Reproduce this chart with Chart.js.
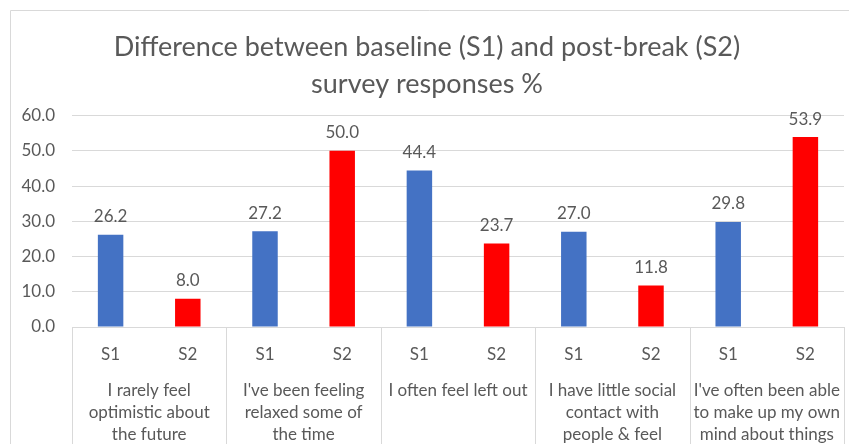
<!DOCTYPE html>
<html>
<head>
<meta charset="utf-8">
<script src="https://cdn.jsdelivr.net/npm/chart.js@4/dist/chart.umd.min.js"></script>
<style>
html,body{margin:0;padding:0;background:#fff;}
#wrap{width:849px;height:444px;position:relative;}
</style>
</head>
<body>
<div id="wrap"><canvas id="c" width="849" height="444"></canvas></div>
<script>
const titleLines = ['Difference between baseline (S1) and post-break (S2)', 'survey responses %'];
const groups = [
  ['I rarely feel', 'optimistic about', 'the future'],
  ["I've been feeling", 'relaxed some of', 'the time'],
  ['I often feel left out'],
  ['I have little social', 'contact with', 'people & feel'],
  ["I've often been able", 'to make up my own', 'mind about things']
];
const subLabels = ['S1', 'S2'];
const s1Values = [26.2, 27.2, 44.4, 27.0, 29.8];
const s2Values = [8.0, 50.0, 23.7, 11.8, 53.9];
const yTicks = [0, 10, 20, 30, 40, 50, 60];

const FONT = 'Lato, "Open Sans", sans-serif';
const TXT = '#595959';
const LINE = '#d9d9d9';
const LBL = 17;

// flat categories: each group has S1 then S2
const categories = [];
groups.forEach(() => subLabels.forEach(s => categories.push(s)));
const s1Data = [], s2Data = [];
groups.forEach((g, i) => {
  s1Data.push(s1Values[i]); s1Data.push(null);
  s2Data.push(null); s2Data.push(s2Values[i]);
});

const framePlugin = {
  id: 'frame',
  beforeDraw(chart) {
    const ctx = chart.ctx;
    ctx.save();
    ctx.strokeStyle = LINE;
    ctx.lineWidth = 1;
    ctx.beginPath();
    ctx.moveTo(10.5, 444);
    ctx.lineTo(10.5, 10.5);
    ctx.lineTo(849, 10.5);
    ctx.stroke();
    ctx.restore();
  },
  afterDraw(chart) {
    const ctx = chart.ctx;
    const x = chart.scales.x;
    const area = chart.chartArea;
    const slot = (area.right - area.left) / categories.length;
    ctx.save();
    ctx.strokeStyle = LINE;
    ctx.lineWidth = 1;
    ctx.beginPath();
    for (let g = 0; g <= groups.length; g++) {
      const px = Math.round(area.left + g * 2 * slot) + 0.5;
      ctx.moveTo(px, area.bottom);
      ctx.lineTo(px, 444);
    }
    ctx.stroke();
    ctx.fillStyle = TXT;
    ctx.font = LBL + 'px ' + FONT;
    ctx.textAlign = 'center';
    ctx.textBaseline = 'middle';
    groups.forEach((lines, g) => {
      const cx = (x.getPixelForValue(g * 2) + x.getPixelForValue(g * 2 + 1)) / 2;
      lines.forEach((t, li) => ctx.fillText(t, cx, 391 + li * 22));
    });
    ctx.restore();
  },
  afterDatasetsDraw(chart) {
    const ctx = chart.ctx;
    ctx.save();
    ctx.fillStyle = TXT;
    ctx.font = LBL + 'px ' + FONT;
    ctx.textAlign = 'center';
    ctx.textBaseline = 'middle';
    chart.data.datasets.forEach((ds, di) => {
      const meta = chart.getDatasetMeta(di);
      meta.data.forEach((el, i) => {
        const v = ds.data[i];
        if (v === null || v === undefined) return;
        ctx.fillText(v.toFixed(1), el.x, el.y - 18);
      });
    });
    ctx.restore();
  }
};

new Chart(document.getElementById('c'), {
  type: 'bar',
  data: {
    labels: categories,
    datasets: [
      { label: 'S1', data: s1Data, backgroundColor: '#4472C4', barPercentage: 0.33, categoryPercentage: 1, skipNull: true },
      { label: 'S2', data: s2Data, backgroundColor: '#FF0000', barPercentage: 0.33, categoryPercentage: 1, skipNull: true }
    ]
  },
  options: {
    responsive: false,
    animation: false,
    grouped: false,
    layout: { padding: { left: 10, right: 5, top: 0, bottom: 0 } },
    plugins: {
      legend: { display: false },
      tooltip: { enabled: false },
      title: {
        display: true,
        text: titleLines,
        color: TXT,
        font: { family: FONT, size: 27, weight: 'normal', lineHeight: 1.4 },
        padding: { top: 28, bottom: 12 }
      }
    },
    scales: {
      x: {
        grid: { display: false, drawTicks: false },
        border: { display: true, color: LINE },
        ticks: { color: TXT, font: { family: FONT, size: LBL }, padding: 17, maxRotation: 0, autoSkip: false },
        afterFit(s) { s.height = 117; }
      },
      y: {
        min: 0, max: 60,
        afterBuildTicks(s) { s.ticks = yTicks.map(v => ({ value: v })); },
        grid: { color: LINE, drawTicks: false },
        border: { display: false },
        ticks: { color: TXT, font: { family: FONT, size: LBL }, padding: 17, callback: v => Number(v).toFixed(1) },
        afterFit(s) { s.width = 62; }
      }
    }
  },
  plugins: [framePlugin]
});
</script>
</body>
</html>
